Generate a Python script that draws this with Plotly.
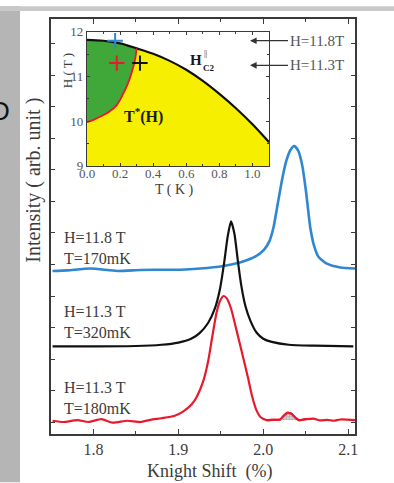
import plotly.graph_objects as go

# ---- NMR spectra: Knight shift (%) vs intensity (arb. unit), stacked ----
blue_shift = [1.7518, 1.7694, 1.7965, 1.8282, 1.8553, 1.8871, 1.9024, 1.9259, 1.9529,
              1.9700, 1.9812, 1.9920, 2.0010, 2.0070, 2.0120, 2.0170, 2.0220, 2.0270,
              2.0318, 2.0365, 2.0412, 2.0460, 2.0505, 2.0553, 2.0600, 2.0650,
              2.0749, 2.0906, 2.1082]
blue_int = [5.17, 5.19, 5.25, 5.17, 5.20, 5.21, 5.21, 5.25, 5.33,
            5.42, 5.52, 5.65, 5.85, 6.10, 6.55, 7.30, 8.05, 8.65,
            9.00, 9.13, 8.98, 8.50, 7.65, 6.55, 5.95, 5.62,
            5.40, 5.28, 5.25]

black_shift = [1.7518, 1.8000, 1.8500, 1.8800, 1.9000, 1.9150, 1.9250, 1.9350, 1.9430,
               1.9490, 1.9540, 1.9580, 1.9620, 1.9660, 1.9700, 1.9740, 1.9790, 1.9850,
               1.9920, 2.0000, 2.0100, 2.0300, 2.0600, 2.1060]
black_int = [2.78, 2.78, 2.79, 2.83, 2.90, 3.02, 3.20, 3.52, 3.98,
             4.60, 5.45, 6.25, 6.74, 6.35, 5.50, 4.72, 4.05, 3.58,
             3.22, 3.02, 2.92, 2.83, 2.80, 2.78]

red_shift = [1.7518, 1.7647, 1.7812, 1.7941, 1.8094, 1.8224, 1.8400, 1.8553, 1.8671,
             1.8800, 1.8950, 1.9050, 1.9160, 1.9220, 1.9290, 1.9350, 1.9400, 1.9450,
             1.9490, 1.9533, 1.9570, 1.9620, 1.9670, 1.9720, 1.9770, 1.9820, 1.9870,
             1.9920, 1.9970, 2.0040, 2.0120, 2.0200, 2.0235, 2.0282, 2.0329, 2.0376,
             2.0423, 2.0500, 2.0588, 2.0670, 2.0753, 2.0830, 2.0906, 2.1082]
red_int = [0.42, 0.38, 0.44, 0.38, 0.47, 0.36, 0.42, 0.38, 0.45,
           0.50, 0.57, 0.70, 0.95, 1.20, 1.65, 2.30, 3.10, 3.85,
           4.22, 4.375, 4.30, 3.98, 3.45, 2.90, 2.35, 1.78, 1.18,
           0.75, 0.53, 0.44, 0.45, 0.46, 0.56, 0.67, 0.64, 0.52,
           0.44, 0.47, 0.49, 0.43, 0.45, 0.42, 0.46, 0.44]

# shaded satellite line on the 180 mK spectrum
sat_shift = [2.0200, 2.0235, 2.0282, 2.0329, 2.0376, 2.0400]
sat_top = [0.46, 0.56, 0.67, 0.64, 0.52, 0.45]
sat_base = [0.44, 0.44, 0.44, 0.44, 0.44, 0.44]

spectra_labels = ["H=11.8 T<br>T=170mK", "H=11.3 T<br>T=320mK", "H=11.3 T<br>T=180mK"]
spectra_colors = ["#2f87d2", "#111111", "#e8192c"]

# ---- inset phase diagram H(T) ----
hc2_T = [0.0, 0.1, 0.2, 0.3, 0.4, 0.5, 0.6, 0.7, 0.8, 0.9, 1.0, 1.1]
hc2_H = [11.82, 11.80, 11.74, 11.63, 11.51, 11.35, 11.15, 10.90, 10.61, 10.29, 9.93, 9.53]

tstar_T = [0.0, 0.04, 0.079, 0.13, 0.18, 0.23, 0.255, 0.271, 0.291, 0.300]
tstar_H = [9.98, 10.03, 10.10, 10.20, 10.36, 10.70, 10.92, 11.10, 11.39, 11.63]

meas_T = [0.17, 0.18, 0.32]
meas_H = [11.8, 11.3, 11.3]
meas_colors = ["#2f87d2", "#e8192c", "#111111"]

x_ticks = [1.8, 1.9, 2.0, 2.1]
inset_T_ticks = [0.0, 0.2, 0.4, 0.6, 0.8, 1.0]
inset_H_ticks = [9, 10, 11, 12]

W, H = 394, 483
L, R, T, B = 51, 355, 13, 434
PW, PH = R - L, B - T


def px(x):
    return (x - L) / PW


def py(y):
    return 1 - (y - T) / PH


SERIF = "Liberation Serif, Times New Roman, serif"
TXT = "#3c3c3c"

fig = go.Figure()

for xs, ys, col, w in [(blue_shift, blue_int, spectra_colors[0], 2.6),
                       (black_shift, black_int, spectra_colors[1], 2.2),
                       (red_shift, red_int, spectra_colors[2], 2.2)]:
    fig.add_trace(go.Scatter(x=xs, y=ys, mode="lines",
                             line=dict(color=col, width=w, shape="spline", smoothing=0.6),
                             showlegend=False, hoverinfo="skip"))

fig.add_trace(go.Scatter(x=sat_shift + sat_shift[::-1], y=sat_top + sat_base[::-1],
                         mode="lines", fill="toself", line=dict(width=0),
                         fillcolor="rgba(255,255,255,0)",
                         fillpattern=dict(shape=".", fgcolor="#8a8a8a", bgcolor="#d9d9d9",
                                          size=3, solidity=0.5),
                         showlegend=False, hoverinfo="skip"))
# redraw the red line over the shading
fig.add_trace(go.Scatter(x=red_shift[29:38], y=red_int[29:38], mode="lines",
                         line=dict(color=spectra_colors[2], width=2.2, shape="spline", smoothing=0.6),
                         showlegend=False, hoverinfo="skip"))

# inset: yellow area under Hc2
fig.add_trace(go.Scatter(x=hc2_T, y=hc2_H, xaxis="x2", yaxis="y2", mode="lines",
                         fill="tozeroy", fillcolor="#f6f000", line=dict(width=0),
                         showlegend=False, hoverinfo="skip"))
# green region bounded by T*(H) and Hc2
green_T = tstar_T + hc2_T[3::-1]
green_H = tstar_H + hc2_H[3::-1]
fig.add_trace(go.Scatter(x=green_T, y=green_H, xaxis="x2", yaxis="y2", mode="lines",
                         fill="toself", fillcolor="#3fa838", line=dict(width=0),
                         showlegend=False, hoverinfo="skip"))
fig.add_trace(go.Scatter(x=hc2_T, y=hc2_H, xaxis="x2", yaxis="y2", mode="lines",
                         line=dict(color="#111111", width=2.2, shape="spline"),
                         showlegend=False, hoverinfo="skip"))
fig.add_trace(go.Scatter(x=tstar_T, y=tstar_H, xaxis="x2", yaxis="y2", mode="lines",
                         line=dict(color="#e8192c", width=1.8, shape="spline"),
                         showlegend=False, hoverinfo="skip"))
fig.add_trace(go.Scatter(x=meas_T, y=meas_H, xaxis="x2", yaxis="y2", mode="markers",
                         marker=dict(symbol="cross-thin", size=11,
                                     line=dict(width=2, color=meas_colors)),
                         showlegend=False, hoverinfo="skip"))

axis_common = dict(showline=True, linecolor="#3a3a3a", linewidth=1.5, mirror="ticks",
                   ticks="inside", tickcolor="#3a3a3a", showgrid=False, zeroline=False)

fig.update_layout(
    width=W, height=H,
    margin=dict(l=L, r=W - R, t=T, b=H - B),
    paper_bgcolor="white", plot_bgcolor="white",
    font=dict(family=SERIF, color=TXT),
    xaxis=dict(range=[1.75, 2.108], tickvals=x_ticks, ticktext=[f"{v:.1f}" for v in x_ticks],
               ticklen=5, tickwidth=1.2,
               tickfont=dict(size=16, family=SERIF, color=TXT),
               minor=dict(dtick=0.05, tick0=1.8, ticks="inside", ticklen=3, tickcolor="#3a3a3a"),
               **axis_common),
    yaxis=dict(range=[0, 13.16], tick0=1.375, dtick=1, ticklen=4, tickwidth=1.2,
               showticklabels=False, **axis_common),
    xaxis2=dict(domain=[px(87), px(269)], anchor="y2", range=[0, 1.1],
                tickvals=inset_T_ticks, ticktext=[f"{v:.1f}" for v in inset_T_ticks],
                ticklen=3, tickwidth=1, ticklabelstandoff=-5,
                tickfont=dict(size=13, family=SERIF, color="#555"),
                minor=dict(dtick=0.1, ticks="inside", ticklen=2, tickcolor="#3a3a3a"),
                **{**axis_common, "linewidth": 1.2}),
    yaxis2=dict(domain=[py(162), py(26)], anchor="x2", range=[9, 12],
                tickvals=inset_H_ticks, ticklen=3, tickwidth=1, ticklabelstandoff=0,
                tickfont=dict(size=13, family=SERIF, color="#555"),
                minor=dict(dtick=0.5, ticks="inside", ticklen=2, tickcolor="#3a3a3a"),
                **{**axis_common, "linewidth": 1.2}),
)

ann = []
# spectrum labels
for lab, yc in zip(spectra_labels, [245, 320.5, 397.5]):
    ann.append(dict(text=lab, x=px(62), y=py(yc), xref="paper", yref="paper",
                    xanchor="left", yanchor="middle", align="left", showarrow=False,
                    font=dict(size=16, family=SERIF, color=TXT)))
# axis titles
ann.append(dict(text="Knight Shift\u00a0\u00a0(%)", x=px(210), y=py(472), xref="paper", yref="paper",
                xanchor="center", yanchor="middle", showarrow=False,
                font=dict(size=18, family=SERIF, color=TXT)))
ann.append(dict(text="Intensity ( arb. unit )", x=px(34), y=py(177), xref="paper", yref="paper",
                xanchor="center", yanchor="middle", textangle=-90, showarrow=False,
                font=dict(size=20, family=SERIF, color=TXT)))
# inset axis titles
ann.append(dict(text="H ( T )", x=px(67), y=py(66), xref="paper", yref="paper",
                xanchor="center", yanchor="middle", textangle=-90, showarrow=False,
                font=dict(size=13, family=SERIF, color=TXT)))
ann.append(dict(text="T ( K )", x=px(174), y=py(186), xref="paper", yref="paper",
                xanchor="center", yanchor="middle", showarrow=False,
                font=dict(size=14, family=SERIF, color=TXT)))
# inset region labels
ann.append(dict(text="<b>T<sup>*</sup>(H)</b>", x=px(143), y=py(111), xref="paper", yref="paper",
                xanchor="center", yanchor="middle", showarrow=False,
                font=dict(size=16, family=SERIF, color="#1a1a1a")))
ann.append(dict(text="<b>H</b>", x=px(196), y=py(55), xref="paper", yref="paper",
                xanchor="center", yanchor="middle", showarrow=False,
                font=dict(size=15, family=SERIF, color="#1a1a1a")))
ann.append(dict(text="||", x=px(202), y=py(48), xref="paper", yref="paper",
                xanchor="left", yanchor="middle", showarrow=False,
                font=dict(size=8, family=SERIF, color="#1a1a1a")))
ann.append(dict(text="<b>C2</b>", x=px(201), y=py(63), xref="paper", yref="paper",
                xanchor="left", yanchor="middle", showarrow=False,
                font=dict(size=9, family=SERIF, color="#1a1a1a")))
# field markers with arrows
for lab, yc in [("H=11.8T", 35), ("H=11.3T", 60)]:
    ann.append(dict(text=lab, x=px(250), y=py(yc), xref="paper", yref="paper",
                    ax=38, ay=0, xanchor="left", yanchor="middle",
                    showarrow=True, arrowhead=2, arrowsize=1.1, arrowwidth=1.2,
                    arrowcolor="#333", font=dict(size=15, family=SERIF, color="#555")))
# panel letter at left edge
ann.append(dict(text="D", x=px(12), y=py(106), xref="paper", yref="paper",
                xanchor="right", yanchor="middle", showarrow=False,
                font=dict(size=26, family="Liberation Sans, Arial, sans-serif", color="#111")))

fig.update_layout(annotations=ann)

# page edges
fig.add_shape(type="rect", xref="paper", yref="paper", x0=px(0), x1=px(20), y0=py(H), y1=py(0),
              fillcolor="#b5b5b5", line=dict(width=0), layer="below")
fig.add_shape(type="rect", xref="paper", yref="paper", x0=px(0), x1=px(W), y0=py(5), y1=py(0),
              fillcolor="#c9c9c9", line=dict(width=0), layer="below")

fig.write_html("out.html")
